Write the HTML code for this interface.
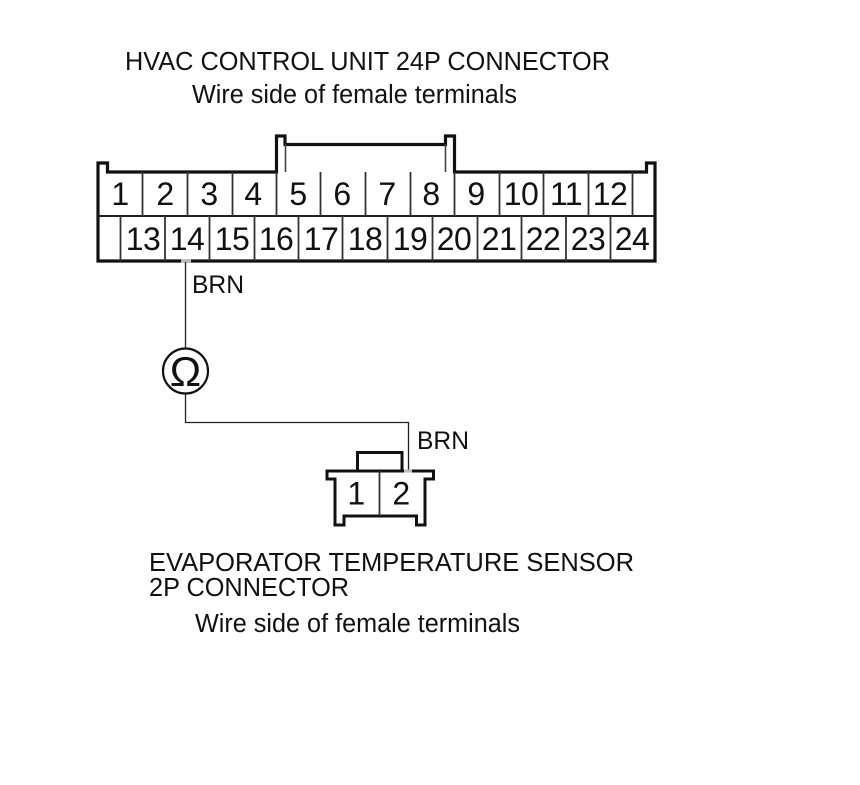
<!DOCTYPE html>
<html>
<head>
<meta charset="utf-8">
<style>
html,body{margin:0;padding:0;background:#fff;width:860px;height:785px;overflow:hidden}
svg{display:block}
text{font-family:"Liberation Sans",Arial,sans-serif;fill:#111}
.n{font-size:32px;text-anchor:middle;letter-spacing:-0.6px}
.t{font-size:25.500px}
.b{font-size:25px}
</style>
</head>
<body>
<svg width="860" height="785" viewBox="0 0 860 785" xmlns="http://www.w3.org/2000/svg">
<rect width="860" height="785" fill="#fff"/>
<text class="t" x="125" y="70" textLength="485" lengthAdjust="spacingAndGlyphs">HVAC CONTROL UNIT 24P CONNECTOR</text>
<text class="t" x="192" y="103" textLength="325" lengthAdjust="spacingAndGlyphs">Wire side of female terminals</text>
<g fill="none" stroke="#111" stroke-linecap="butt">
  <path d="M98 261 V163 H107.500 V172 H276.500 V136 H285 V144.500 H445.500 V136 H454.500 V172 H646.500 V163 H655 V261 Z" stroke-width="3.200"/>
  <path d="M285.500 144 V172 M445.500 144 V172" stroke-width="1.600" stroke="#444"/>
  <path d="M98 216 H655" stroke-width="2" stroke="#222"/>
  <path d="M142.500 172V216M187.500 172V216M232.500 172V216M276.500 172V216M320.500 172V216M365.500 172V216M410.500 172V216M454.500 172V216M499.500 172V216M543.500 172V216M588.500 172V216M632.500 172V216" stroke-width="1.800" stroke="#333"/>
  <path d="M120.500 216V261M165 216V261M209.500 216V261M254.500 216V261M298.500 216V261M342.500 216V261M387.500 216V261M432.500 216V261M477.500 216V261M521.500 216V261M566 216V261M610.500 216V261" stroke-width="1.800" stroke="#333"/>
</g>
<g>
  <text class="n" x="120" y="205">1</text><text class="n" x="165" y="205">2</text><text class="n" x="209" y="205">3</text><text class="n" x="253" y="205">4</text><text class="n" x="298" y="205">5</text><text class="n" x="342" y="205">6</text><text class="n" x="387" y="205">7</text><text class="n" x="431" y="205">8</text><text class="n" x="476" y="205">9</text><text class="n" x="521" y="205">10</text><text class="n" x="566" y="205">11</text><text class="n" x="610" y="205">12</text>
  <text class="n" x="143" y="250">13</text><text class="n" x="187" y="250">14</text><text class="n" x="232" y="250">15</text><text class="n" x="276" y="250">16</text><text class="n" x="321" y="250">17</text><text class="n" x="365" y="250">18</text><text class="n" x="410" y="250">19</text><text class="n" x="454" y="250">20</text><text class="n" x="499" y="250">21</text><text class="n" x="543" y="250">22</text><text class="n" x="588" y="250">23</text><text class="n" x="632" y="250">24</text>
</g>
<path d="M181 261 H191" stroke="#bbb" stroke-width="3"/>
<path d="M185.500 262 V348.500 M185.500 393 V422.500 H408.500 V471" fill="none" stroke="#222" stroke-width="1.300"/>
<text class="b" x="192" y="293" textLength="52" lengthAdjust="spacingAndGlyphs">BRN</text>
<circle cx="185.500" cy="371" r="22.500" fill="#fff" stroke="#111" stroke-width="2.200"/>
<text x="185.500" y="386" font-size="42" text-anchor="middle">Ω</text>
<text class="b" x="417" y="449" textLength="52" lengthAdjust="spacingAndGlyphs">BRN</text>
<path d="M357.500 471 V452.500 H402 V471" fill="none" stroke="#111" stroke-width="3"/>
<path d="M327 471 H433.500 V479 H425 V525 H416.500 V516 H344 V525 H335 V479 H327 Z" fill="none" stroke="#111" stroke-width="3"/>
<path d="M379.500 471 V516" stroke="#333" stroke-width="1.800"/>
<path d="M404 471 H412" stroke="#bbb" stroke-width="3"/>
<text class="n" x="356" y="504.500">1</text>
<text class="n" x="401" y="504.500">2</text>
<text class="t" x="149" y="571" textLength="485" lengthAdjust="spacingAndGlyphs">EVAPORATOR TEMPERATURE SENSOR</text>
<text class="t" x="149" y="596" textLength="200" lengthAdjust="spacingAndGlyphs">2P CONNECTOR</text>
<text class="t" x="195" y="632" textLength="325" lengthAdjust="spacingAndGlyphs">Wire side of female terminals</text>
</svg>
</body>
</html>
